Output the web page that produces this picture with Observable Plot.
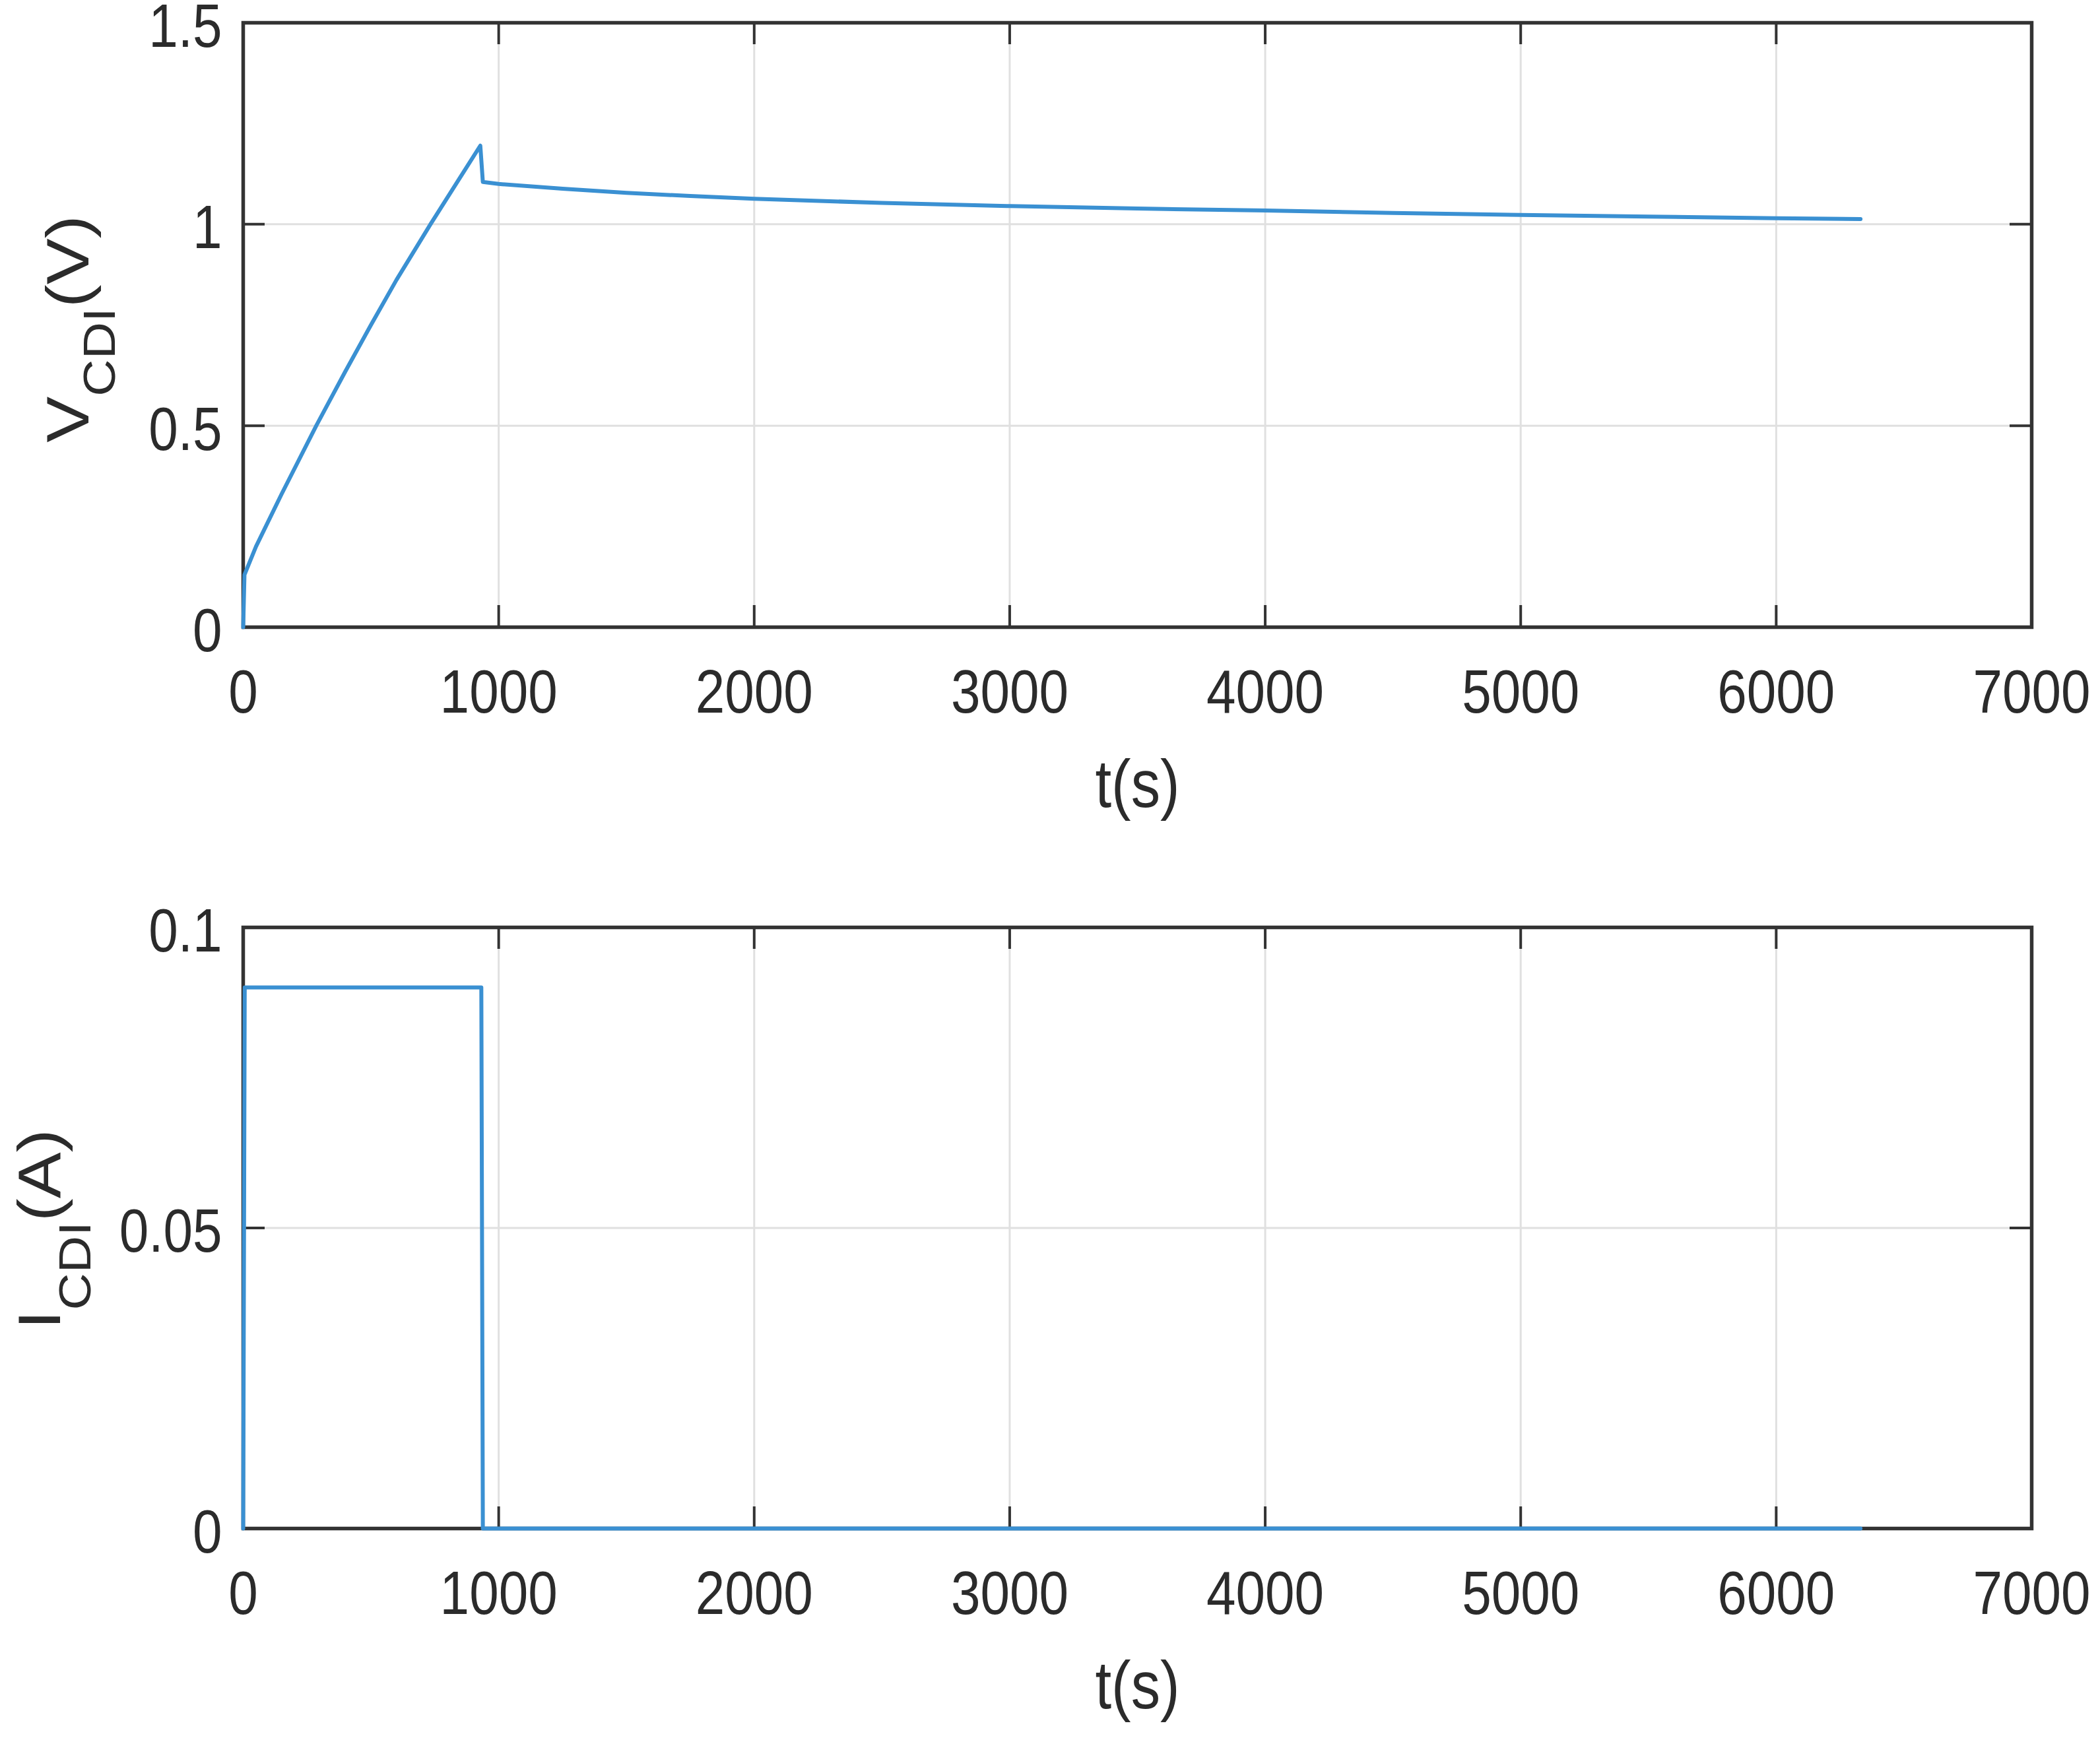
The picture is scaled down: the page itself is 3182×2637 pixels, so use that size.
<!DOCTYPE html>
<html>
<head>
<meta charset="utf-8">
<script src="https://cdn.jsdelivr.net/npm/d3@7"></script>
<script src="https://cdn.jsdelivr.net/npm/@observablehq/plot@0.6"></script>
<style>
  html, body { margin: 0; padding: 0; background: #fff; }
  #chart { position: relative; width: 3182px; height: 2637px; background: #fff; }
  #chart svg { position: absolute; left: 0; display: block; }
</style>
</head>
<body>
<div id="chart"></div>
<script>
// ---- data ----
const timeTicks = [0, 1000, 2000, 3000, 4000, 5000, 6000, 7000];
const vTicks = [0, 0.5, 1, 1.5];
const iTicks = [0, 0.05, 0.1];

const vTime  = [0, 5, 50, 150, 286, 400, 500, 600, 733, 850, 928, 938, 1000, 1250, 1500, 1750, 2000, 2500, 3000, 3500, 4000, 4500, 5000, 5500, 6000, 6330];
const vValue = [0, 0.13, 0.2, 0.33, 0.5, 0.635, 0.75, 0.862, 1.0, 1.117, 1.195, 1.105, 1.10, 1.088, 1.078, 1.07, 1.063, 1.053, 1.045, 1.039, 1.034, 1.028, 1.023, 1.019, 1.015, 1.013];

const iTime  = [0, 6, 932, 938, 6330];
const iValue = [0, 0.09, 0.09, 0, 0];

const xLabel = "t(s)";
const vLabelParts = ["V", "CDI", "(V)"];
const iLabelParts = ["I", "CDI", "(A)"];

// ---- styling ----
const W = 3182, ML = 368, MR = 104;
const FONT = "'Liberation Sans', Arial, Helvetica, sans-serif";
const INK = "#2b2b2b", FRAME = "#333333", GRID = "#e0e0e0", BLUE = "#3a90d2";
const TICK = 33, SX = 0.87;

function panel({height, marginTop, marginBottom, yDomain, yTicks, rows, labelParts, labelDx, labelDy, subShift}) {
  const innerW = W - ML - MR, innerH = height - marginTop - marginBottom;
  const svg = Plot.plot({
    width: W, height, marginTop, marginBottom, marginLeft: ML, marginRight: MR,
    style: {background: "white", fontFamily: FONT, color: INK, overflow: "visible"},
    x: {domain: [0, 7000]},
    y: {domain: yDomain},
    marks: [
      Plot.gridX(timeTicks, {stroke: GRID, strokeOpacity: 1, strokeWidth: 3}),
      Plot.gridY(yTicks, {stroke: GRID, strokeOpacity: 1, strokeWidth: 3}),
      Plot.ruleX(timeTicks, {stroke: FRAME, strokeWidth: 4, insetTop: innerH - TICK}),
      Plot.ruleX(timeTicks, {stroke: FRAME, strokeWidth: 4, insetBottom: innerH - TICK}),
      Plot.ruleY(yTicks, {stroke: FRAME, strokeWidth: 4, insetRight: innerW - TICK}),
      Plot.ruleY(yTicks, {stroke: FRAME, strokeWidth: 4, insetLeft: innerW - TICK}),
      Plot.frame({stroke: FRAME, strokeWidth: 5.5}),
      Plot.line(rows, {x: "t", y: "v", stroke: BLUE, strokeWidth: 6, strokeLinejoin: "round"}),
      Plot.axisX(timeTicks, {tickSize: 0, tickPadding: 64, tickFormat: d => String(d), fontSize: 92, label: null, color: INK}),
      Plot.axisY(yTicks, {tickSize: 0, tickPadding: 32, tickFormat: d => String(d), fontSize: 92, label: null, color: INK, dy: 7}),
      Plot.text([xLabel], {text: d => d, frameAnchor: "bottom", lineAnchor: "bottom", dy: 272, fontSize: 102, fill: INK}),
      Plot.text([labelParts.join("")], {text: d => d, frameAnchor: "left", textAnchor: "middle", rotate: -90, lineAnchor: "bottom", dx: labelDx, dy: labelDy, fontSize: 105, fill: INK})
    ]
  });
  // subscript for the y label
  const joined = labelParts.join("");
  d3.select(svg).selectAll("text").each(function () {
    if (this.textContent === joined) {
      const t = d3.select(this);
      t.text(null);
      t.append("tspan").text(labelParts[0]);
      t.append("tspan").attr("font-size", 78).attr("dy", subShift).text(labelParts[1]);
      t.append("tspan").attr("dy", -subShift).text(labelParts[2]);
    }
  });
  // condense glyphs horizontally, like the reference
  d3.select(svg).selectAll("text").each(function () {
    const tr = this.getAttribute("transform");
    if (!tr) return;
    if (tr.includes("rotate")) this.setAttribute("transform", tr.replace("rotate", `scale(${SX},1) rotate`));
    else this.setAttribute("transform", tr + ` scale(${SX},1)`);
  });
  return svg;
}

const vRows = vTime.map((t, k) => ({t, v: vValue[k]}));
const iRows = iTime.map((t, k) => ({t, v: iValue[k]}));

const topPanel = panel({height: 1300, marginTop: 34, marginBottom: 350, yDomain: [0, 1.5], yTicks: vTicks, rows: vRows,
  labelParts: vLabelParts, labelDx: -235, labelDy: 6, subShift: 46});
const bottomPanel = panel({height: 1337, marginTop: 105, marginBottom: 321, yDomain: [0, 0.1], yTicks: iTicks, rows: iRows,
  labelParts: iLabelParts, labelDx: -278, labelDy: 2, subShift: 54});

topPanel.style.top = "0px";
bottomPanel.style.top = "1300px";
const chart = document.getElementById("chart");
chart.appendChild(topPanel);
chart.appendChild(bottomPanel);
</script>
</body>
</html>
